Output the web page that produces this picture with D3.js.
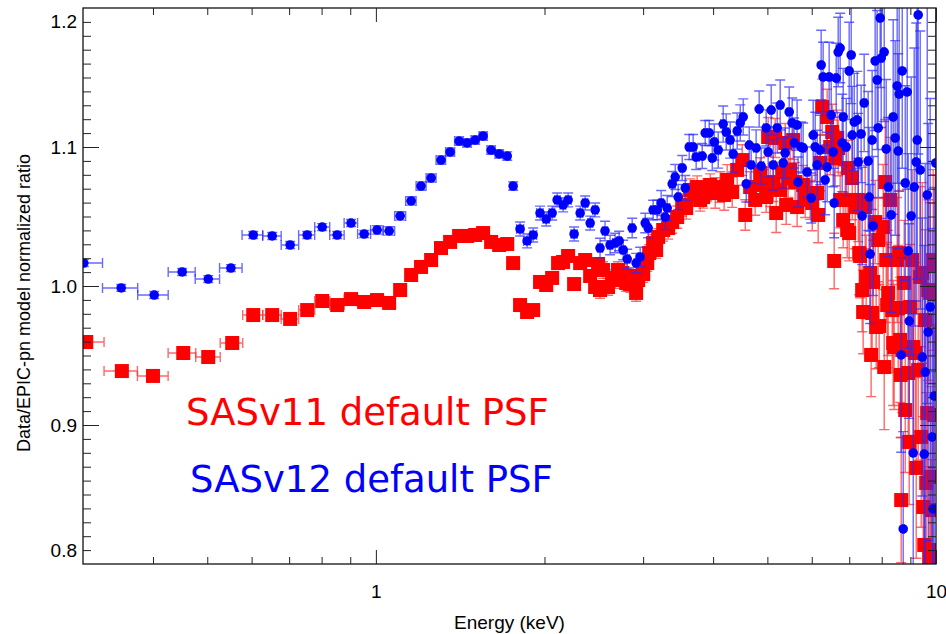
<!DOCTYPE html>
<meta charset="utf-8">
<style>
body { margin: 0; background: #fff; }
svg { display: block; }
.tick text { font-family: "Liberation Sans", Arial, sans-serif; font-size: 19px; fill: #000; }
.tick line { stroke: #222; stroke-width: 1; }
.domain { display: none; }
.title { font-family: "Liberation Sans", Arial, sans-serif; fill: #000; }
.legend { font-family: "DejaVu Sans", sans-serif; font-size: 37px; }
</style>
<svg width="946" height="634"></svg>
<script src="https://cdn.jsdelivr.net/npm/d3@7"></script>
<script>

// ratio data, [energy keV, ratio]
var redData = [
  [0.304,0.9597],[0.352,0.9388],[0.400,0.9353],[0.453,0.9518],[0.502,0.9489],[0.554,0.9590],
  [0.604,0.9791],[0.653,0.9791],[0.703,0.9763],[0.754,0.9827],[0.802,0.9892],[0.853,0.9863],
  [0.903,0.9906],[0.953,0.9885],[1.005,0.9899],[1.056,0.9878],[1.105,0.9971],[1.156,1.0079],
  [1.204,1.0137],[1.255,1.0187],[1.307,1.0273],[1.357,1.0317],[1.408,1.0360],[1.455,1.0360],
  [1.504,1.0367],[1.554,1.0381],[1.606,1.0317],[1.660,1.0295],[1.716,1.0302],[1.758,1.0165],
  [1.809,0.9863],[1.862,0.9813],[1.909,0.9827],[1.964,1.0029],[2.014,1.0007],[2.064,1.0058],
  [2.115,1.0165],[2.159,1.0173],[2.204,1.0216],[2.259,1.0014],[2.316,1.0165],[2.364,1.0187],
  [2.413,1.0072],[2.463,0.9993],[2.493,1.0158],[2.513,0.9971],[2.544,1.0115],[2.597,0.9993],
  [2.641,1.0058],[2.674,1.0043],[2.706,1.0115],[2.753,1.0094],[2.798,1.0022],[2.844,1.0014],
  [2.879,1.0072],[2.915,0.9950],[2.939,1.0043],[3.001,1.0086],[3.051,1.0165],[3.076,1.0237],
  [3.126,1.0309],[3.165,1.0259],[3.191,1.0353],[3.258,1.0403],[3.325,1.0417],[3.381,1.0460],
  [3.451,1.0496],[3.523,1.0583],[3.581,1.0561],[3.640,1.0691],[3.700,1.0655],[3.746,1.0712],
  [3.793,1.0619],[3.840,1.0640],[3.904,1.0691],[3.953,1.0727],[4.035,1.0669],[4.118,1.0712],
  [4.186,1.0655],[4.238,1.0763],[4.327,1.0676],[4.416,1.0835],[4.509,1.0906],[4.565,1.0511],
  [4.658,1.0712],[4.755,1.0619],[4.854,1.0813],[4.914,1.0727],[4.975,1.0640],[5.016,1.1072],
  [5.058,1.0712],[5.121,1.0748],[5.163,1.1065],[5.184,1.0525],[5.270,1.0691],[5.314,1.0820],
  [5.380,1.1029],[5.402,1.0583],[5.446,1.0777],[5.490,1.0835],[5.558,1.1050],[5.604,1.0748],
  [5.650,1.0568],[5.792,1.0727],[5.840,1.0633],[5.962,1.0619],[6.012,1.0597],[6.136,1.0669],
  [6.161,1.0511],[6.211,1.0885],[6.263,1.1288],[6.392,1.1216],[6.473,1.1000],[6.527,1.1108],
  [6.580,1.0180],[6.608,1.0921],[6.662,1.1065],[6.689,1.0993],[6.744,1.0619],[6.828,1.0475],
  [6.884,1.0619],[6.941,1.0403],[6.969,1.0849],[6.998,1.0381],[7.086,1.0777],[7.174,1.0568],
  [7.263,1.0619],[7.293,1.0237],[7.321,1.0216],[7.382,0.9971],[7.412,0.9813],[7.473,1.0568],
  [7.504,1.0065],[7.628,1.0094],[7.659,0.9504],[7.691,0.9806],[7.723,1.0029],[7.787,1.0460],
  [7.819,0.9705],[7.883,1.0331],[7.916,0.9712],[8.049,1.0424],[8.082,0.9417],[8.115,1.0748],
  [8.149,1.0187],[8.182,0.9863],[8.216,0.9950],[8.283,1.0619],[8.352,0.9827],[8.386,0.9590],
  [8.420,0.9561],[8.525,1.0187],[8.560,0.9842],[8.595,1.0237],[8.632,0.9612],[8.650,0.9360],
  [8.667,0.8460],[8.704,0.9540],[8.775,1.0022],[8.812,0.9108],[8.920,0.9374],[8.957,0.8878],
  [8.994,0.9849],[9.069,1.0187],[9.106,0.9561],[9.181,0.9518],[9.219,0.8691],[9.294,0.9396],
  [9.372,1.0065],[9.410,0.8914],[9.450,1.0094],[9.488,0.8410],[9.528,0.8137],[9.567,0.9755],
  [9.606,0.8583],[9.646,0.9086],[9.685,0.9971],[9.725,0.8050],[9.763,0.9950],[9.780,0.8626],
  [9.803,0.8101],[9.844,0.8388],[9.884,1.0187],[9.925,0.9072],[9.966,1.0151]
];

var blueData = [
  [0.301,1.0165],[0.351,0.9986],[0.402,0.9935],[0.451,1.0101],[0.502,1.0050],[0.551,1.0129],
  [0.604,1.0367],[0.653,1.0360],[0.703,1.0295],[0.754,1.0367],[0.802,1.0424],[0.853,1.0367],
  [0.903,1.0453],[0.953,1.0374],[1.005,1.0403],[1.056,1.0396],[1.105,1.0504],[1.156,1.0612],
  [1.204,1.0719],[1.255,1.0777],[1.307,1.0906],[1.357,1.0964],[1.408,1.1043],[1.455,1.1029],
  [1.504,1.1050],[1.554,1.1079],[1.606,1.0978],[1.660,1.0950],[1.716,1.0935],[1.758,1.0719],
  [1.809,1.0410],[1.862,1.0324],[1.909,1.0367],[1.964,1.0525],[2.014,1.0482],[2.064,1.0525],
  [2.107,1.0619],[2.159,1.0583],[2.204,1.0619],[2.259,1.0374],[2.316,1.0525],[2.364,1.0597],
  [2.413,1.0453],[2.463,1.0547],[2.513,1.0273],[2.565,1.0396],[2.619,1.0295],[2.674,1.0309],
  [2.718,1.0324],[2.764,1.0259],[2.810,1.0194],[2.868,1.0417],[2.915,1.0165],[2.964,1.0209],
  [3.026,1.0453],[3.063,1.0417],[3.126,1.0547],[3.178,1.0547],[3.231,1.0597],[3.285,1.0496],
  [3.312,1.0561],[3.381,1.0734],[3.423,1.0784],[3.465,1.0640],[3.523,1.0849],[3.567,1.0705],
  [3.626,1.1000],[3.685,1.1000],[3.731,1.0928],[3.825,1.0935],[3.872,1.1101],[3.936,1.1101],
  [3.986,1.0921],[4.019,1.1036],[4.085,1.0978],[4.169,1.1165],[4.221,1.1108],[4.291,1.1050],
  [4.344,1.0950],[4.416,1.1115],[4.472,1.1173],[4.527,1.1216],[4.584,1.0734],[4.641,1.1014],
  [4.677,1.0871],[4.774,1.0993],[4.834,1.1273],[4.874,1.0863],[4.975,1.1137],[5.016,1.0964],
  [5.079,1.1266],[5.121,1.0871],[5.206,1.1137],[5.270,1.1302],[5.335,1.0885],[5.380,1.0957],
  [5.469,1.1252],[5.536,1.1173],[5.581,1.1029],[5.650,1.1158],[5.673,1.0748],[5.745,1.1000],
  [5.792,1.0993],[5.888,1.0820],[5.986,1.0633],[6.036,1.1086],[6.086,1.1000],[6.136,1.0871],
  [6.211,1.0978],[6.237,1.1590],[6.288,1.1504],[6.340,1.0763],[6.392,1.0856],[6.445,1.1504],
  [6.500,1.1230],[6.553,1.0964],[6.580,1.0597],[6.635,1.1496],[6.689,1.1683],[6.744,1.1712],
  [6.800,1.1029],[6.828,1.1216],[6.913,1.1000],[6.998,1.1547],[7.057,1.1662],[7.086,1.1086],
  [7.145,1.1180],[7.233,1.1194],[7.263,1.0892],[7.351,1.1094],[7.382,1.0504],[7.443,1.1317],
  [7.566,1.0899],[7.597,1.0640],[7.628,1.0230],[7.691,1.1050],[7.723,1.0432],[7.787,1.1619],
  [7.851,1.1482],[7.883,1.1137],[7.950,1.1928],[7.983,1.1640],[8.082,1.1683],[8.149,1.0986],
  [8.216,1.0712],[8.317,1.0511],[8.386,1.1216],[8.455,1.1065],[8.525,1.1439],[8.560,1.0971],
  [8.595,1.1381],[8.667,0.9504],[8.704,1.1547],[8.739,0.8252],[8.812,1.0741],[8.884,1.1396],
  [8.920,1.0252],[8.957,0.9748],[9.031,1.0504],[9.106,0.8799],[9.143,1.0712],[9.219,1.0892],
  [9.257,1.1050],[9.294,1.1950],[9.372,1.0835],[9.450,0.9489],[9.528,0.8791],[9.567,0.9381],
  [9.646,1.0655],[9.685,0.9669],[9.763,0.9849],[9.844,0.8914],[9.884,0.8396],[9.925,0.9209],
  [9.990,1.0885]
];

// 1-sigma ratio errors by energy band: [upper energy, error]
var redErrBands = [[1.0,0.002],[2.0,0.002],[2.5,0.004],[3.2,0.006],[4.0,0.008],[5.0,0.011],
                   [6.0,0.014],[7.0,0.02],[8.0,0.03],[9.0,0.045],[11,0.065]];
var blueErrBands = [[1.0,0.0025],[1.8,0.003],[2.5,0.005],[3.2,0.007],[4.0,0.009],[5.0,0.013],
                    [6.0,0.018],[6.8,0.025],[7.5,0.035],[8.3,0.05],[9.0,0.07],[9.5,0.1],[11,0.15]];

var xMinorTicks = [0.4,0.5,0.6,0.7,0.8,0.9,2,3,4,5,6,7,8,9];
var xMajorTicks = [1,10];
var xTickLabels = ["1","10"];
var yMinorTicks = [0.81,0.82,0.83,0.84,0.85,0.86,0.87,0.88,0.89,0.91,0.92,0.93,0.94,0.95,0.96,0.97,0.98,0.99,
                   1.01,1.02,1.03,1.04,1.05,1.06,1.07,1.08,1.09,1.11,1.12,1.13,1.14,1.15,1.16,1.17,1.18,1.19];
var yMajorTicks = [0.9,1.0,1.1];
var yLabelTicks = [0.81,0.9,1.0,1.1,1.19];
var yTickLabels = ["0.8","0.9","1.0","1.1","1.2"];

var svg = d3.select("svg");
var plotL = 83, plotR = 936, plotT = 8, plotB = 564;

var x = d3.scaleLog().domain([0.3, 10]).range([plotL, plotR]);
var y = d3.scaleLinear().domain([0.8, 1.2]).range([plotB, plotT]);

svg.append("clipPath").attr("id", "plotclip")
  .append("rect").attr("x", plotL).attr("y", plotT)
  .attr("width", plotR - plotL).attr("height", plotB - plotT);

var plot = svg.append("g").attr("clip-path", "url(#plotclip)");

function errFor(bands, e) {
  for (var i = 0; i < bands.length; i++) if (e < bands[i][0]) return bands[i][1];
  return bands[bands.length - 1][1];
}

// error bar path: energy bin (geometric midpoints to neighbours) + vertical error
function errPath(data, bands) {
  return data.map(function(d, i) {
    var e = d[0];
    var lo = i > 0 ? Math.sqrt(e * data[i-1][0]) : e * e / Math.sqrt(e * data[i+1][0]);
    var hi = i < data.length - 1 ? Math.sqrt(e * data[i+1][0]) : e * e / Math.sqrt(e * data[i-1][0]);
    var err = errFor(bands, e);
    var cx = x(e), cy = y(d[1]), y1 = y(d[1] + err), y2 = y(d[1] - err);
    var x1 = x(lo), x2 = x(hi);
    return "M" + x1 + "," + cy + "H" + x2 +
      "M" + x1 + "," + (cy - 5) + "V" + (cy + 5) +
      "M" + x2 + "," + (cy - 5) + "V" + (cy + 5) +
      "M" + cx + "," + y1 + "V" + y2 +
      "M" + (cx - 5) + "," + y1 + "H" + (cx + 5) +
      "M" + (cx - 5) + "," + y2 + "H" + (cx + 5);
  });
}

// red: SASv11
plot.append("g").selectAll("path")
  .data(errPath(redData, redErrBands))
  .join("path")
    .attr("d", function(d) { return d; })
    .attr("fill", "none")
    .attr("stroke", "#ff2a2a")
    .attr("stroke-opacity", 0.7)
    .attr("stroke-width", 1.4);

plot.append("g").selectAll("rect")
  .data(redData)
  .join("rect")
    .attr("x", function(d) { return x(d[0]) - 7; })
    .attr("y", function(d) { return y(d[1]) - 7; })
    .attr("width", 14)
    .attr("height", 14)
    .attr("fill", "#ff0000");

// blue: SASv12
plot.append("g").selectAll("path")
  .data(errPath(blueData, blueErrBands))
  .join("path")
    .attr("d", function(d) { return d; })
    .attr("fill", "none")
    .attr("stroke", "#2a2aff")
    .attr("stroke-opacity", 0.7)
    .attr("stroke-width", 1.4);

plot.append("g").selectAll("circle")
  .data(blueData)
  .join("circle")
    .attr("cx", function(d) { return x(d[0]); })
    .attr("cy", function(d) { return y(d[1]); })
    .attr("r", 4.8)
    .attr("fill", "#0000ff");

// frame
svg.append("rect")
  .attr("x", plotL).attr("y", plotT)
  .attr("width", plotR - plotL).attr("height", plotB - plotT)
  .attr("fill", "none").attr("stroke", "#111").attr("stroke-width", 1.3);

// axes: ticks point inward on all four sides
svg.append("g").attr("transform", "translate(0," + plotB + ")")
  .call(d3.axisBottom(x).tickValues(xMinorTicks).tickSize(-7).tickFormat(""));
svg.append("g").attr("transform", "translate(0," + plotB + ")")
  .call(d3.axisBottom(x).tickValues(xMajorTicks).tickSize(-14).tickFormat(""));
svg.append("g").attr("transform", "translate(0," + plotB + ")")
  .call(d3.axisBottom(x).tickValues(xMajorTicks).tickSize(0).tickPadding(21)
    .tickFormat(function(d, i) { return xTickLabels[i]; }));

svg.append("g").attr("transform", "translate(0," + plotT + ")")
  .call(d3.axisTop(x).tickValues(xMinorTicks).tickSize(-7).tickFormat(""));
svg.append("g").attr("transform", "translate(0," + plotT + ")")
  .call(d3.axisTop(x).tickValues(xMajorTicks).tickSize(-14).tickFormat(""));

svg.append("g").attr("transform", "translate(" + plotL + ",0)")
  .call(d3.axisLeft(y).tickValues(yMinorTicks).tickSize(-8).tickFormat(""));
svg.append("g").attr("transform", "translate(" + plotL + ",0)")
  .call(d3.axisLeft(y).tickValues(yMajorTicks).tickSize(-16).tickFormat(""));
svg.append("g").attr("transform", "translate(" + plotL + ",0)")
  .call(d3.axisLeft(y).tickValues(yLabelTicks).tickSize(0).tickPadding(6)
    .tickFormat(function(d, i) { return yTickLabels[i]; }));

svg.append("g").attr("transform", "translate(" + plotR + ",0)")
  .call(d3.axisRight(y).tickValues(yMinorTicks).tickSize(-8).tickFormat(""));
svg.append("g").attr("transform", "translate(" + plotR + ",0)")
  .call(d3.axisRight(y).tickValues(yMajorTicks).tickSize(-16).tickFormat(""));

// titles
svg.append("text")
  .attr("class", "title")
  .attr("x", (plotL + plotR) / 2)
  .attr("y", 629)
  .attr("text-anchor", "middle")
  .attr("font-size", 19)
  .text("Energy (keV)");

svg.append("text")
  .attr("class", "title")
  .attr("transform", "translate(30,303) rotate(-90)")
  .attr("text-anchor", "middle")
  .attr("font-size", 18)
  .text("Data/EPIC-pn model normalized ratio");

// legend labels
svg.append("text").attr("class", "legend")
  .attr("x", 186).attr("y", 425).attr("fill", "#ff0000")
  .text("SASv11 default PSF");
svg.append("text").attr("class", "legend")
  .attr("x", 190).attr("y", 492).attr("fill", "#0000ff")
  .text("SASv12 default PSF");

</script>
